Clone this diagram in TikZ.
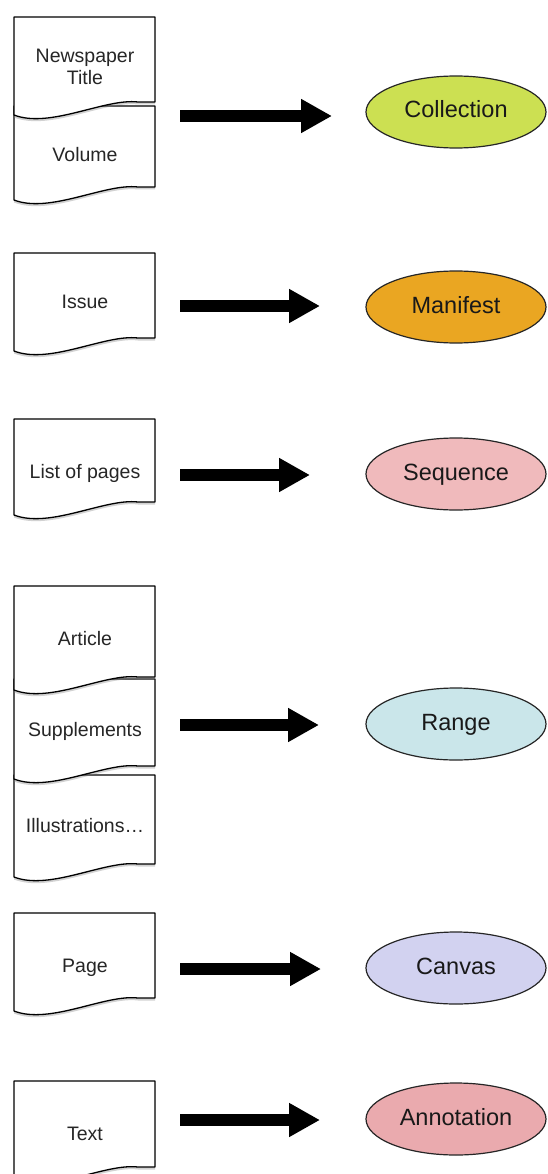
\documentclass[tikz,border=0pt]{standalone}
\usepackage{fontspec}
\setmainfont{Liberation Sans}
\usetikzlibrary{arrows.meta,shadows,shapes.geometric}
\definecolor{colcollection}{RGB}{204,224,82}
\definecolor{colmanifest}{RGB}{234,166,34}
\definecolor{colsequence}{RGB}{240,186,188}
\definecolor{colrange}{RGB}{202,230,234}
\definecolor{colcanvas}{RGB}{210,210,240}
\definecolor{colannotation}{RGB}{234,170,174}
\tikzset{
  docline/.style={draw=black, line width=1.3pt, fill=white, line join=round,
    drop shadow={shadow xshift=0pt, shadow yshift=-2.5pt, opacity=0.35}},
  doctext/.style={anchor=base, font=\fontsize{19.5}{22}\selectfont, text=black!85, inner sep=0pt},
  oval/.style={ellipse, draw=black!85, line width=1.2pt, minimum width=180pt, minimum height=72pt,
    inner sep=0pt, text height=16.5pt, text depth=4.5pt, font=\fontsize{23.5}{26}\selectfont, text=black!90},
  bigarrow/.style={line width=12pt, -{Triangle[length=31pt,width=32pt]}},
}
\newcommand\docpage[2]{\path[docline] (14,#1) -- (155,#1) -- (155,#2-13) -- (138,#2-13)
  .. controls (105,#2-17) and (50,#2+14) .. (14,#2) -- cycle;}
\begin{document}
\begin{tikzpicture}[x=1pt,y=-1pt]
\clip (0,0) rectangle (547,1174);
\fill[white] (0,0) rectangle (547,1174);
% row 1
\docpage{106}{200}
\docpage{17}{115}
\node[doctext] (np1) at (85,63) {Newspaper};
\node[doctext] (np2) at (85,85) {Title};
\node[doctext] (vol) at (85,162) {Volume};
\node[oval, fill=colcollection] (coll) at (456,112) {Collection};
\coordinate (a1s) at (180,116); \coordinate (a1e) at (332,116);
\draw[bigarrow] (a1s) -- (a1e);
% row 2
\docpage{253}{351}
\node[doctext] (iss) at (85,308) {Issue};
\node[oval, fill=colmanifest] (man) at (456,307) {Manifest};
\coordinate (a2s) at (180,306); \coordinate (a2e) at (320,306);
\draw[bigarrow] (a2s) -- (a2e);
% row 3
\docpage{419}{515}
\node[doctext] (lop) at (85,478) {List of pages};
\node[oval, fill=colsequence] (seq) at (456,474) {Sequence};
\coordinate (a3s) at (180,475); \coordinate (a3e) at (310,475);
\draw[bigarrow] (a3s) -- (a3e);
% row 4
\docpage{775}{877}
\docpage{679}{779}
\docpage{586}{690}
\node[doctext] (art) at (85,645) {Article};
\node[doctext] (sup) at (85,736) {Supplements};
\node[doctext] (ill) at (85,832) {Illustrations…};
\node[oval, fill=colrange] (rng) at (456,724) {Range};
\coordinate (a4s) at (180,725); \coordinate (a4e) at (319,725);
\draw[bigarrow] (a4s) -- (a4e);
% row 5
\docpage{913}{1011}
\node[doctext] (pg) at (85,972) {Page};
\node[oval, fill=colcanvas] (can) at (456,968) {Canvas};
\coordinate (a5s) at (180,969); \coordinate (a5e) at (321,969);
\draw[bigarrow] (a5s) -- (a5e);
% row 6
\docpage{1081}{1180}
\node[doctext] (txt) at (85,1140) {Text};
\node[oval, fill=colannotation] (ann) at (456,1119) {Annotation};
\coordinate (a6s) at (180,1120); \coordinate (a6e) at (320,1120);
\draw[bigarrow] (a6s) -- (a6e);
\end{tikzpicture}
\end{document}
